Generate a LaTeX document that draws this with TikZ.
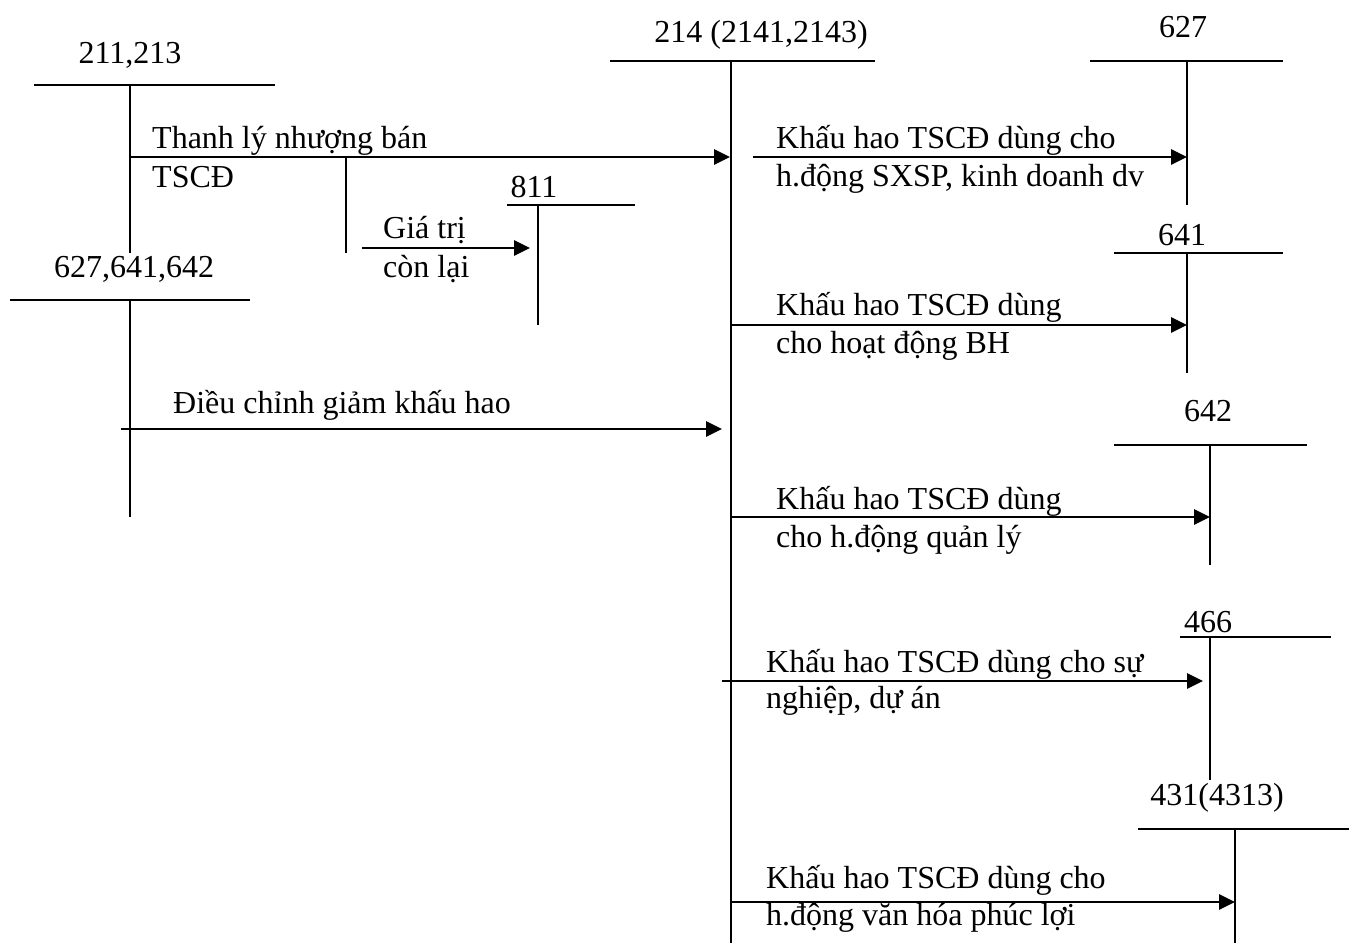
\documentclass[tikz,border=0pt]{standalone}
\usepackage{fontspec}
\setmainfont{Liberation Serif}
\usetikzlibrary{arrows.meta}
\begin{document}
\begin{tikzpicture}[x=1pt,y=-1pt,
  tline/.style={line width=1.6pt},
  flow/.style={line width=2.7pt,-{Triangle[length=16pt,width=15pt]}},
  acct/.style={inner sep=0pt,anchor=base,font=\fontsize{32}{38}\selectfont},
  txt/.style={inner sep=0pt,anchor=base west,font=\fontsize{32}{38}\selectfont}]
\useasboundingbox (0,0) rectangle (1349,943);
% account labels
\node[acct] (l211) at (130,63) {211,213};
\node[acct] (l627L) at (134,277) {627,641,642};
\node[acct] (l811) at (534,197) {811};
\node[acct] (l214) at (761,42) {214 (2141,2143)};
\node[acct] (l627) at (1183,37) {627};
\node[acct] (l641) at (1182,245) {641};
\node[acct] (l642) at (1208,421) {642};
\node[acct] (l466) at (1208,632) {466};
\node[acct] (l431) at (1217,805) {431(4313)};
% T accounts
\draw[tline] (34,85) -- (275,85);   \draw[tline] (130,85) coordinate (t211) -- (130,253) coordinate (b211);
\draw[tline] (10,300) -- (250,300); \draw[tline] (130,300) coordinate (t6L) -- (130,517) coordinate (b6L);
\draw[tline] (507,205) -- (635,205); \draw[tline] (538,205) coordinate (t811) -- (538,325) coordinate (b811);
\draw[tline] (610,61) -- (875,61);  \draw[tline] (731,61) coordinate (t214) -- (731,943) coordinate (b214);
\draw[tline] (1090,61) -- (1283,61); \draw[tline] (1187,61) coordinate (t627) -- (1187,205) coordinate (b627);
\draw[tline] (1114,253) -- (1283,253); \draw[tline] (1187,253) coordinate (t641) -- (1187,373) coordinate (b641);
\draw[tline] (1114,445) -- (1307,445); \draw[tline] (1210,445) coordinate (t642) -- (1210,565) coordinate (b642);
\draw[tline] (1180,637) -- (1331,637); \draw[tline] (1210,637) coordinate (t466) -- (1210,780) coordinate (b466);
\draw[tline] (1138,829) -- (1349,829); \draw[tline] (1235,829) coordinate (t431) -- (1235,943) coordinate (b431);
% branch
\draw[tline] (346,157) coordinate (br1) -- (346,253) coordinate (br2);
% arrows
\coordinate (a1s) at (130,157); \coordinate (a1e) at (730,157);
\coordinate (a2s) at (362,248); \coordinate (a2e) at (530,248);
\coordinate (a3s) at (121,429); \coordinate (a3e) at (722,429);
\coordinate (r1s) at (753,157); \coordinate (r1e) at (1187,157);
\coordinate (r2s) at (731,325); \coordinate (r2e) at (1187,325);
\coordinate (r3s) at (731,517); \coordinate (r3e) at (1210,517);
\coordinate (r4s) at (722,681); \coordinate (r4e) at (1203,681);
\coordinate (r5s) at (730,902); \coordinate (r5e) at (1235,902);
\draw[flow] (a1s) -- (a1e);
\draw[flow] (a2s) -- (a2e);
\draw[flow] (a3s) -- (a3e);
\draw[flow] (r1s) -- (r1e);
\draw[flow] (r2s) -- (r2e);
\draw[flow] (r3s) -- (r3e);
\draw[flow] (r4s) -- (r4e);
\draw[flow] (r5s) -- (r5e);
% texts
\node[txt] (t1a) at (152,148) {Thanh lý nhượng bán};
\node[txt] (t1b) at (152,187) {TSCĐ};
\node[txt] (t2a) at (383,238) {Giá trị};
\node[txt] (t2b) at (383,277) {còn lại};
\node[txt] (t3) at (173,413) {Điều chỉnh giảm khấu hao};
\node[txt] (t4a) at (776,148) {Khấu hao TSCĐ dùng cho};
\node[txt] (t4b) at (776,186) {h.động SXSP, kinh doanh dv};
\node[txt] (t5a) at (776,315) {Khấu hao TSCĐ dùng};
\node[txt] (t5b) at (776,353) {cho hoạt động BH};
\node[txt] (t6a) at (776,509) {Khấu hao TSCĐ dùng};
\node[txt] (t6b) at (776,547) {cho h.động quản lý};
\node[txt] (t7a) at (766,672) {Khấu hao TSCĐ dùng cho sự};
\node[txt] (t7b) at (766,708) {nghiệp, dự án};
\node[txt] (t8a) at (766,888) {Khấu hao TSCĐ dùng cho};
\node[txt] (t8b) at (766,925) {h.động văn hóa phúc lợi};
\end{tikzpicture}
\end{document}
